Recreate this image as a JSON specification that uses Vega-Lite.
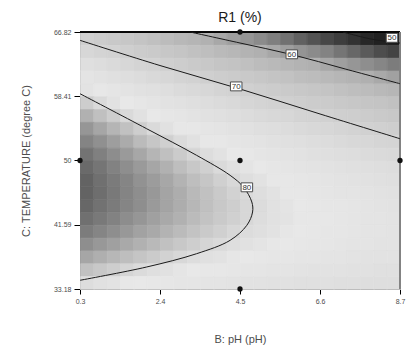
{
"$schema": "https://vega.github.io/schema/vega-lite/v6.json",
"width": 320, "height": 257,
"autosize": {"type": "none"},
"padding": {"left": 80, "top": 32, "right": 19, "bottom": 67},
"background": "white",
"config": {"font": "Liberation Sans", "view": {"stroke": null},
 "axisX": {"titleFontSize": 11, "titleFontWeight": "normal", "titleColor": "#4d4d4d", "titlePadding": 29, "labelFontSize": 7, "labelColor": "#4d4d4d", "labelPadding": 3, "tickSize": 5, "tickColor": "#000000", "domainColor": "#000000", "labelFlush": false, "grid": false, "zindex": 1},
 "axisY": {"titleFontSize": 11, "titleFontWeight": "normal", "titleColor": "#4d4d4d", "titlePadding": 22, "labelFontSize": 7, "labelColor": "#4d4d4d", "labelPadding": 3, "tickSize": 6, "tickColor": "#000000", "domainColor": "#808080", "labelFlush": false, "grid": false, "zindex": 1}},
"title": {"text": "R1 (%)", "fontSize": 14, "fontWeight": "normal", "color": "#1a1a1a", "offset": 3, "anchor": "middle"},
"datasets": {
"heat": [
{"ph":0.475,"t":65.98,"r":68.9},{"ph":0.825,"t":65.98,"r":67.9},{"ph":1.175,"t":65.98,"r":66.9},{"ph":1.525,"t":65.98,"r":65.9},{"ph":1.875,"t":65.98,"r":65.0},{"ph":2.225,"t":65.98,"r":64.0},{"ph":2.575,"t":65.98,"r":63.0},{"ph":2.925,"t":65.98,"r":62.1},{"ph":3.275,"t":65.98,"r":61.2},{"ph":3.625,"t":65.98,"r":60.2},{"ph":3.975,"t":65.98,"r":59.3},{"ph":4.325,"t":65.98,"r":58.4},{"ph":4.675,"t":65.98,"r":57.6},{"ph":5.025,"t":65.98,"r":56.7},{"ph":5.375,"t":65.98,"r":55.8},{"ph":5.725,"t":65.98,"r":55.0},{"ph":6.075,"t":65.98,"r":54.1},{"ph":6.425,"t":65.98,"r":53.3},{"ph":6.775,"t":65.98,"r":52.5},{"ph":7.125,"t":65.98,"r":51.7},{"ph":7.475,"t":65.98,"r":50.9},{"ph":7.825,"t":65.98,"r":50.1},{"ph":8.175,"t":65.98,"r":49.3},{"ph":8.525,"t":65.98,"r":48.5},
{"ph":0.475,"t":64.30,"r":71.8},{"ph":0.825,"t":64.30,"r":70.8},{"ph":1.175,"t":64.30,"r":69.9},{"ph":1.525,"t":64.30,"r":68.9},{"ph":1.875,"t":64.30,"r":68.0},{"ph":2.225,"t":64.30,"r":67.1},{"ph":2.575,"t":64.30,"r":66.1},{"ph":2.925,"t":64.30,"r":65.2},{"ph":3.275,"t":64.30,"r":64.3},{"ph":3.625,"t":64.30,"r":63.4},{"ph":3.975,"t":64.30,"r":62.6},{"ph":4.325,"t":64.30,"r":61.7},{"ph":4.675,"t":64.30,"r":60.8},{"ph":5.025,"t":64.30,"r":60.0},{"ph":5.375,"t":64.30,"r":59.2},{"ph":5.725,"t":64.30,"r":58.4},{"ph":6.075,"t":64.30,"r":57.5},{"ph":6.425,"t":64.30,"r":56.7},{"ph":6.775,"t":64.30,"r":56.0},{"ph":7.125,"t":64.30,"r":55.2},{"ph":7.475,"t":64.30,"r":54.4},{"ph":7.825,"t":64.30,"r":53.7},{"ph":8.175,"t":64.30,"r":52.9},{"ph":8.525,"t":64.30,"r":52.2},
{"ph":0.475,"t":62.62,"r":74.5},{"ph":0.825,"t":62.62,"r":73.5},{"ph":1.175,"t":62.62,"r":72.6},{"ph":1.525,"t":62.62,"r":71.7},{"ph":1.875,"t":62.62,"r":70.8},{"ph":2.225,"t":62.62,"r":69.9},{"ph":2.575,"t":62.62,"r":69.0},{"ph":2.925,"t":62.62,"r":68.1},{"ph":3.275,"t":62.62,"r":67.2},{"ph":3.625,"t":62.62,"r":66.4},{"ph":3.975,"t":62.62,"r":65.5},{"ph":4.325,"t":62.62,"r":64.7},{"ph":4.675,"t":62.62,"r":63.9},{"ph":5.025,"t":62.62,"r":63.1},{"ph":5.375,"t":62.62,"r":62.3},{"ph":5.725,"t":62.62,"r":61.5},{"ph":6.075,"t":62.62,"r":60.7},{"ph":6.425,"t":62.62,"r":60.0},{"ph":6.775,"t":62.62,"r":59.2},{"ph":7.125,"t":62.62,"r":58.5},{"ph":7.475,"t":62.62,"r":57.7},{"ph":7.825,"t":62.62,"r":57.0},{"ph":8.175,"t":62.62,"r":56.3},{"ph":8.525,"t":62.62,"r":55.6},
{"ph":0.475,"t":60.93,"r":76.8},{"ph":0.825,"t":60.93,"r":75.9},{"ph":1.175,"t":60.93,"r":75.0},{"ph":1.525,"t":60.93,"r":74.1},{"ph":1.875,"t":60.93,"r":73.3},{"ph":2.225,"t":60.93,"r":72.4},{"ph":2.575,"t":60.93,"r":71.6},{"ph":2.925,"t":60.93,"r":70.7},{"ph":3.275,"t":60.93,"r":69.9},{"ph":3.625,"t":60.93,"r":69.1},{"ph":3.975,"t":60.93,"r":68.2},{"ph":4.325,"t":60.93,"r":67.5},{"ph":4.675,"t":60.93,"r":66.7},{"ph":5.025,"t":60.93,"r":65.9},{"ph":5.375,"t":60.93,"r":65.1},{"ph":5.725,"t":60.93,"r":64.4},{"ph":6.075,"t":60.93,"r":63.6},{"ph":6.425,"t":60.93,"r":62.9},{"ph":6.775,"t":60.93,"r":62.2},{"ph":7.125,"t":60.93,"r":61.5},{"ph":7.475,"t":60.93,"r":60.8},{"ph":7.825,"t":60.93,"r":60.1},{"ph":8.175,"t":60.93,"r":59.4},{"ph":8.525,"t":60.93,"r":58.7},
{"ph":0.475,"t":59.25,"r":79.0},{"ph":0.825,"t":59.25,"r":78.1},{"ph":1.175,"t":59.25,"r":77.2},{"ph":1.525,"t":59.25,"r":76.4},{"ph":1.875,"t":59.25,"r":75.5},{"ph":2.225,"t":59.25,"r":74.7},{"ph":2.575,"t":59.25,"r":73.9},{"ph":2.925,"t":59.25,"r":73.1},{"ph":3.275,"t":59.25,"r":72.3},{"ph":3.625,"t":59.25,"r":71.5},{"ph":3.975,"t":59.25,"r":70.7},{"ph":4.325,"t":59.25,"r":69.9},{"ph":4.675,"t":59.25,"r":69.2},{"ph":5.025,"t":59.25,"r":68.4},{"ph":5.375,"t":59.25,"r":67.7},{"ph":5.725,"t":59.25,"r":67.0},{"ph":6.075,"t":59.25,"r":66.3},{"ph":6.425,"t":59.25,"r":65.6},{"ph":6.775,"t":59.25,"r":64.9},{"ph":7.125,"t":59.25,"r":64.2},{"ph":7.475,"t":59.25,"r":63.6},{"ph":7.825,"t":59.25,"r":62.9},{"ph":8.175,"t":59.25,"r":62.3},{"ph":8.525,"t":59.25,"r":61.6},
{"ph":0.475,"t":57.57,"r":80.8},{"ph":0.825,"t":57.57,"r":80.0},{"ph":1.175,"t":57.57,"r":79.1},{"ph":1.525,"t":57.57,"r":78.3},{"ph":1.875,"t":57.57,"r":77.5},{"ph":2.225,"t":57.57,"r":76.7},{"ph":2.575,"t":57.57,"r":75.9},{"ph":2.925,"t":57.57,"r":75.2},{"ph":3.275,"t":57.57,"r":74.4},{"ph":3.625,"t":57.57,"r":73.6},{"ph":3.975,"t":57.57,"r":72.9},{"ph":4.325,"t":57.57,"r":72.2},{"ph":4.675,"t":57.57,"r":71.4},{"ph":5.025,"t":57.57,"r":70.7},{"ph":5.375,"t":57.57,"r":70.0},{"ph":5.725,"t":57.57,"r":69.4},{"ph":6.075,"t":57.57,"r":68.7},{"ph":6.425,"t":57.57,"r":68.0},{"ph":6.775,"t":57.57,"r":67.4},{"ph":7.125,"t":57.57,"r":66.7},{"ph":7.475,"t":57.57,"r":66.1},{"ph":7.825,"t":57.57,"r":65.5},{"ph":8.175,"t":57.57,"r":64.9},{"ph":8.525,"t":57.57,"r":64.3},
{"ph":0.475,"t":55.89,"r":82.4},{"ph":0.825,"t":55.89,"r":81.6},{"ph":1.175,"t":55.89,"r":80.8},{"ph":1.525,"t":55.89,"r":80.0},{"ph":1.875,"t":55.89,"r":79.3},{"ph":2.225,"t":55.89,"r":78.5},{"ph":2.575,"t":55.89,"r":77.7},{"ph":2.925,"t":55.89,"r":77.0},{"ph":3.275,"t":55.89,"r":76.3},{"ph":3.625,"t":55.89,"r":75.5},{"ph":3.975,"t":55.89,"r":74.8},{"ph":4.325,"t":55.89,"r":74.1},{"ph":4.675,"t":55.89,"r":73.4},{"ph":5.025,"t":55.89,"r":72.8},{"ph":5.375,"t":55.89,"r":72.1},{"ph":5.725,"t":55.89,"r":71.5},{"ph":6.075,"t":55.89,"r":70.8},{"ph":6.425,"t":55.89,"r":70.2},{"ph":6.775,"t":55.89,"r":69.6},{"ph":7.125,"t":55.89,"r":69.0},{"ph":7.475,"t":55.89,"r":68.4},{"ph":7.825,"t":55.89,"r":67.8},{"ph":8.175,"t":55.89,"r":67.2},{"ph":8.525,"t":55.89,"r":66.6},
{"ph":0.475,"t":54.21,"r":83.8},{"ph":0.825,"t":54.21,"r":83.0},{"ph":1.175,"t":54.21,"r":82.2},{"ph":1.525,"t":54.21,"r":81.5},{"ph":1.875,"t":54.21,"r":80.7},{"ph":2.225,"t":54.21,"r":80.0},{"ph":2.575,"t":54.21,"r":79.3},{"ph":2.925,"t":54.21,"r":78.6},{"ph":3.275,"t":54.21,"r":77.9},{"ph":3.625,"t":54.21,"r":77.2},{"ph":3.975,"t":54.21,"r":76.5},{"ph":4.325,"t":54.21,"r":75.8},{"ph":4.675,"t":54.21,"r":75.2},{"ph":5.025,"t":54.21,"r":74.5},{"ph":5.375,"t":54.21,"r":73.9},{"ph":5.725,"t":54.21,"r":73.3},{"ph":6.075,"t":54.21,"r":72.7},{"ph":6.425,"t":54.21,"r":72.1},{"ph":6.775,"t":54.21,"r":71.5},{"ph":7.125,"t":54.21,"r":70.9},{"ph":7.475,"t":54.21,"r":70.4},{"ph":7.825,"t":54.21,"r":69.8},{"ph":8.175,"t":54.21,"r":69.3},{"ph":8.525,"t":54.21,"r":68.7},
{"ph":0.475,"t":52.52,"r":84.8},{"ph":0.825,"t":52.52,"r":84.1},{"ph":1.175,"t":52.52,"r":83.4},{"ph":1.525,"t":52.52,"r":82.7},{"ph":1.875,"t":52.52,"r":81.9},{"ph":2.225,"t":52.52,"r":81.2},{"ph":2.575,"t":52.52,"r":80.6},{"ph":2.925,"t":52.52,"r":79.9},{"ph":3.275,"t":52.52,"r":79.2},{"ph":3.625,"t":52.52,"r":78.6},{"ph":3.975,"t":52.52,"r":77.9},{"ph":4.325,"t":52.52,"r":77.3},{"ph":4.675,"t":52.52,"r":76.7},{"ph":5.025,"t":52.52,"r":76.1},{"ph":5.375,"t":52.52,"r":75.5},{"ph":5.725,"t":52.52,"r":74.9},{"ph":6.075,"t":52.52,"r":74.3},{"ph":6.425,"t":52.52,"r":73.7},{"ph":6.775,"t":52.52,"r":73.2},{"ph":7.125,"t":52.52,"r":72.6},{"ph":7.475,"t":52.52,"r":72.1},{"ph":7.825,"t":52.52,"r":71.6},{"ph":8.175,"t":52.52,"r":71.1},{"ph":8.525,"t":52.52,"r":70.6},
{"ph":0.475,"t":50.84,"r":85.7},{"ph":0.825,"t":50.84,"r":85.0},{"ph":1.175,"t":50.84,"r":84.3},{"ph":1.525,"t":50.84,"r":83.6},{"ph":1.875,"t":50.84,"r":82.9},{"ph":2.225,"t":50.84,"r":82.2},{"ph":2.575,"t":50.84,"r":81.6},{"ph":2.925,"t":50.84,"r":80.9},{"ph":3.275,"t":50.84,"r":80.3},{"ph":3.625,"t":50.84,"r":79.7},{"ph":3.975,"t":50.84,"r":79.1},{"ph":4.325,"t":50.84,"r":78.5},{"ph":4.675,"t":50.84,"r":77.9},{"ph":5.025,"t":50.84,"r":77.3},{"ph":5.375,"t":50.84,"r":76.8},{"ph":5.725,"t":50.84,"r":76.2},{"ph":6.075,"t":50.84,"r":75.7},{"ph":6.425,"t":50.84,"r":75.1},{"ph":6.775,"t":50.84,"r":74.6},{"ph":7.125,"t":50.84,"r":74.1},{"ph":7.475,"t":50.84,"r":73.6},{"ph":7.825,"t":50.84,"r":73.1},{"ph":8.175,"t":50.84,"r":72.6},{"ph":8.525,"t":50.84,"r":72.2},
{"ph":0.475,"t":49.16,"r":86.2},{"ph":0.825,"t":49.16,"r":85.6},{"ph":1.175,"t":49.16,"r":84.9},{"ph":1.525,"t":49.16,"r":84.2},{"ph":1.875,"t":49.16,"r":83.6},{"ph":2.225,"t":49.16,"r":83.0},{"ph":2.575,"t":49.16,"r":82.4},{"ph":2.925,"t":49.16,"r":81.7},{"ph":3.275,"t":49.16,"r":81.1},{"ph":3.625,"t":49.16,"r":80.6},{"ph":3.975,"t":49.16,"r":80.0},{"ph":4.325,"t":49.16,"r":79.4},{"ph":4.675,"t":49.16,"r":78.9},{"ph":5.025,"t":49.16,"r":78.3},{"ph":5.375,"t":49.16,"r":77.8},{"ph":5.725,"t":49.16,"r":77.3},{"ph":6.075,"t":49.16,"r":76.8},{"ph":6.425,"t":49.16,"r":76.3},{"ph":6.775,"t":49.16,"r":75.8},{"ph":7.125,"t":49.16,"r":75.3},{"ph":7.475,"t":49.16,"r":74.8},{"ph":7.825,"t":49.16,"r":74.4},{"ph":8.175,"t":49.16,"r":73.9},{"ph":8.525,"t":49.16,"r":73.5},
{"ph":0.475,"t":47.48,"r":86.6},{"ph":0.825,"t":47.48,"r":85.9},{"ph":1.175,"t":47.48,"r":85.3},{"ph":1.525,"t":47.48,"r":84.7},{"ph":1.875,"t":47.48,"r":84.0},{"ph":2.225,"t":47.48,"r":83.5},{"ph":2.575,"t":47.48,"r":82.9},{"ph":2.925,"t":47.48,"r":82.3},{"ph":3.275,"t":47.48,"r":81.7},{"ph":3.625,"t":47.48,"r":81.2},{"ph":3.975,"t":47.48,"r":80.6},{"ph":4.325,"t":47.48,"r":80.1},{"ph":4.675,"t":47.48,"r":79.6},{"ph":5.025,"t":47.48,"r":79.1},{"ph":5.375,"t":47.48,"r":78.6},{"ph":5.725,"t":47.48,"r":78.1},{"ph":6.075,"t":47.48,"r":77.6},{"ph":6.425,"t":47.48,"r":77.1},{"ph":6.775,"t":47.48,"r":76.7},{"ph":7.125,"t":47.48,"r":76.2},{"ph":7.475,"t":47.48,"r":75.8},{"ph":7.825,"t":47.48,"r":75.4},{"ph":8.175,"t":47.48,"r":75.0},{"ph":8.525,"t":47.48,"r":74.6},
{"ph":0.475,"t":45.80,"r":86.6},{"ph":0.825,"t":45.80,"r":86.0},{"ph":1.175,"t":45.80,"r":85.4},{"ph":1.525,"t":45.80,"r":84.8},{"ph":1.875,"t":45.80,"r":84.2},{"ph":2.225,"t":45.80,"r":83.7},{"ph":2.575,"t":45.80,"r":83.1},{"ph":2.925,"t":45.80,"r":82.6},{"ph":3.275,"t":45.80,"r":82.0},{"ph":3.625,"t":45.80,"r":81.5},{"ph":3.975,"t":45.80,"r":81.0},{"ph":4.325,"t":45.80,"r":80.5},{"ph":4.675,"t":45.80,"r":80.0},{"ph":5.025,"t":45.80,"r":79.6},{"ph":5.375,"t":45.80,"r":79.1},{"ph":5.725,"t":45.80,"r":78.6},{"ph":6.075,"t":45.80,"r":78.2},{"ph":6.425,"t":45.80,"r":77.8},{"ph":6.775,"t":45.80,"r":77.3},{"ph":7.125,"t":45.80,"r":76.9},{"ph":7.475,"t":45.80,"r":76.5},{"ph":7.825,"t":45.80,"r":76.1},{"ph":8.175,"t":45.80,"r":75.8},{"ph":8.525,"t":45.80,"r":75.4},
{"ph":0.475,"t":44.11,"r":86.4},{"ph":0.825,"t":44.11,"r":85.8},{"ph":1.175,"t":44.11,"r":85.3},{"ph":1.525,"t":44.11,"r":84.7},{"ph":1.875,"t":44.11,"r":84.2},{"ph":2.225,"t":44.11,"r":83.6},{"ph":2.575,"t":44.11,"r":83.1},{"ph":2.925,"t":44.11,"r":82.6},{"ph":3.275,"t":44.11,"r":82.1},{"ph":3.625,"t":44.11,"r":81.6},{"ph":3.975,"t":44.11,"r":81.1},{"ph":4.325,"t":44.11,"r":80.7},{"ph":4.675,"t":44.11,"r":80.2},{"ph":5.025,"t":44.11,"r":79.8},{"ph":5.375,"t":44.11,"r":79.3},{"ph":5.725,"t":44.11,"r":78.9},{"ph":6.075,"t":44.11,"r":78.5},{"ph":6.425,"t":44.11,"r":78.1},{"ph":6.775,"t":44.11,"r":77.7},{"ph":7.125,"t":44.11,"r":77.4},{"ph":7.475,"t":44.11,"r":77.0},{"ph":7.825,"t":44.11,"r":76.6},{"ph":8.175,"t":44.11,"r":76.3},{"ph":8.525,"t":44.11,"r":76.0},
{"ph":0.475,"t":42.43,"r":85.9},{"ph":0.825,"t":42.43,"r":85.4},{"ph":1.175,"t":42.43,"r":84.9},{"ph":1.525,"t":42.43,"r":84.3},{"ph":1.875,"t":42.43,"r":83.8},{"ph":2.225,"t":42.43,"r":83.3},{"ph":2.575,"t":42.43,"r":82.8},{"ph":2.925,"t":42.43,"r":82.4},{"ph":3.275,"t":42.43,"r":81.9},{"ph":3.625,"t":42.43,"r":81.4},{"ph":3.975,"t":42.43,"r":81.0},{"ph":4.325,"t":42.43,"r":80.6},{"ph":4.675,"t":42.43,"r":80.2},{"ph":5.025,"t":42.43,"r":79.7},{"ph":5.375,"t":42.43,"r":79.3},{"ph":5.725,"t":42.43,"r":79.0},{"ph":6.075,"t":42.43,"r":78.6},{"ph":6.425,"t":42.43,"r":78.2},{"ph":6.775,"t":42.43,"r":77.9},{"ph":7.125,"t":42.43,"r":77.5},{"ph":7.475,"t":42.43,"r":77.2},{"ph":7.825,"t":42.43,"r":76.9},{"ph":8.175,"t":42.43,"r":76.6},{"ph":8.525,"t":42.43,"r":76.3},
{"ph":0.475,"t":40.75,"r":85.2},{"ph":0.825,"t":40.75,"r":84.7},{"ph":1.175,"t":40.75,"r":84.2},{"ph":1.525,"t":40.75,"r":83.7},{"ph":1.875,"t":40.75,"r":83.2},{"ph":2.225,"t":40.75,"r":82.8},{"ph":2.575,"t":40.75,"r":82.3},{"ph":2.925,"t":40.75,"r":81.9},{"ph":3.275,"t":40.75,"r":81.4},{"ph":3.625,"t":40.75,"r":81.0},{"ph":3.975,"t":40.75,"r":80.6},{"ph":4.325,"t":40.75,"r":80.2},{"ph":4.675,"t":40.75,"r":79.8},{"ph":5.025,"t":40.75,"r":79.5},{"ph":5.375,"t":40.75,"r":79.1},{"ph":5.725,"t":40.75,"r":78.7},{"ph":6.075,"t":40.75,"r":78.4},{"ph":6.425,"t":40.75,"r":78.1},{"ph":6.775,"t":40.75,"r":77.7},{"ph":7.125,"t":40.75,"r":77.4},{"ph":7.475,"t":40.75,"r":77.1},{"ph":7.825,"t":40.75,"r":76.8},{"ph":8.175,"t":40.75,"r":76.6},{"ph":8.525,"t":40.75,"r":76.3},
{"ph":0.475,"t":39.07,"r":84.2},{"ph":0.825,"t":39.07,"r":83.7},{"ph":1.175,"t":39.07,"r":83.3},{"ph":1.525,"t":39.07,"r":82.8},{"ph":1.875,"t":39.07,"r":82.4},{"ph":2.225,"t":39.07,"r":82.0},{"ph":2.575,"t":39.07,"r":81.5},{"ph":2.925,"t":39.07,"r":81.1},{"ph":3.275,"t":39.07,"r":80.7},{"ph":3.625,"t":39.07,"r":80.3},{"ph":3.975,"t":39.07,"r":80.0},{"ph":4.325,"t":39.07,"r":79.6},{"ph":4.675,"t":39.07,"r":79.2},{"ph":5.025,"t":39.07,"r":78.9},{"ph":5.375,"t":39.07,"r":78.6},{"ph":5.725,"t":39.07,"r":78.3},{"ph":6.075,"t":39.07,"r":77.9},{"ph":6.425,"t":39.07,"r":77.6},{"ph":6.775,"t":39.07,"r":77.4},{"ph":7.125,"t":39.07,"r":77.1},{"ph":7.475,"t":39.07,"r":76.8},{"ph":7.825,"t":39.07,"r":76.6},{"ph":8.175,"t":39.07,"r":76.3},{"ph":8.525,"t":39.07,"r":76.1},
{"ph":0.475,"t":37.39,"r":83.0},{"ph":0.825,"t":37.39,"r":82.5},{"ph":1.175,"t":37.39,"r":82.1},{"ph":1.525,"t":37.39,"r":81.7},{"ph":1.875,"t":37.39,"r":81.3},{"ph":2.225,"t":37.39,"r":80.9},{"ph":2.575,"t":37.39,"r":80.5},{"ph":2.925,"t":37.39,"r":80.1},{"ph":3.275,"t":37.39,"r":79.7},{"ph":3.625,"t":37.39,"r":79.4},{"ph":3.975,"t":37.39,"r":79.1},{"ph":4.325,"t":37.39,"r":78.7},{"ph":4.675,"t":37.39,"r":78.4},{"ph":5.025,"t":37.39,"r":78.1},{"ph":5.375,"t":37.39,"r":77.8},{"ph":5.725,"t":37.39,"r":77.5},{"ph":6.075,"t":37.39,"r":77.2},{"ph":6.425,"t":37.39,"r":77.0},{"ph":6.775,"t":37.39,"r":76.7},{"ph":7.125,"t":37.39,"r":76.5},{"ph":7.475,"t":37.39,"r":76.2},{"ph":7.825,"t":37.39,"r":76.0},{"ph":8.175,"t":37.39,"r":75.8},{"ph":8.525,"t":37.39,"r":75.6},
{"ph":0.475,"t":35.70,"r":81.5},{"ph":0.825,"t":35.70,"r":81.1},{"ph":1.175,"t":35.70,"r":80.7},{"ph":1.525,"t":35.70,"r":80.3},{"ph":1.875,"t":35.70,"r":79.9},{"ph":2.225,"t":35.70,"r":79.5},{"ph":2.575,"t":35.70,"r":79.2},{"ph":2.925,"t":35.70,"r":78.8},{"ph":3.275,"t":35.70,"r":78.5},{"ph":3.625,"t":35.70,"r":78.2},{"ph":3.975,"t":35.70,"r":77.9},{"ph":4.325,"t":35.70,"r":77.6},{"ph":4.675,"t":35.70,"r":77.3},{"ph":5.025,"t":35.70,"r":77.0},{"ph":5.375,"t":35.70,"r":76.8},{"ph":5.725,"t":35.70,"r":76.5},{"ph":6.075,"t":35.70,"r":76.3},{"ph":6.425,"t":35.70,"r":76.0},{"ph":6.775,"t":35.70,"r":75.8},{"ph":7.125,"t":35.70,"r":75.6},{"ph":7.475,"t":35.70,"r":75.4},{"ph":7.825,"t":35.70,"r":75.2},{"ph":8.175,"t":35.70,"r":75.0},{"ph":8.525,"t":35.70,"r":74.9},
{"ph":0.475,"t":34.02,"r":79.7},{"ph":0.825,"t":34.02,"r":79.3},{"ph":1.175,"t":34.02,"r":79.0},{"ph":1.525,"t":34.02,"r":78.6},{"ph":1.875,"t":34.02,"r":78.3},{"ph":2.225,"t":34.02,"r":77.9},{"ph":2.575,"t":34.02,"r":77.6},{"ph":2.925,"t":34.02,"r":77.3},{"ph":3.275,"t":34.02,"r":77.0},{"ph":3.625,"t":34.02,"r":76.7},{"ph":3.975,"t":34.02,"r":76.5},{"ph":4.325,"t":34.02,"r":76.2},{"ph":4.675,"t":34.02,"r":75.9},{"ph":5.025,"t":34.02,"r":75.7},{"ph":5.375,"t":34.02,"r":75.5},{"ph":5.725,"t":34.02,"r":75.2},{"ph":6.075,"t":34.02,"r":75.0},{"ph":6.425,"t":34.02,"r":74.8},{"ph":6.775,"t":34.02,"r":74.7},{"ph":7.125,"t":34.02,"r":74.5},{"ph":7.475,"t":34.02,"r":74.3},{"ph":7.825,"t":34.02,"r":74.2},{"ph":8.175,"t":34.02,"r":74.0},{"ph":8.525,"t":34.02,"r":73.9}
],
"contours": [
{"c":"80","o":1,"ph":0.3,"t":58.74},{"c":"80","o":2,"ph":2.05,"t":54.16},{"c":"80","o":3,"ph":3.36,"t":50.68},{"c":"80","o":4,"ph":4.24,"t":48.06},{"c":"80","o":5,"ph":4.59,"t":46.53},{"c":"80","o":6,"ph":4.81,"t":44.57},{"c":"80","o":7,"ph":4.83,"t":43.26},{"c":"80","o":8,"ph":4.68,"t":41.52},{"c":"80","o":9,"ph":4.24,"t":39.55},{"c":"80","o":10,"ph":3.36,"t":37.8},{"c":"80","o":11,"ph":2.05,"t":36.06},{"c":"80","o":12,"ph":0.3,"t":34.32},
{"c":"70","o":1,"ph":0.3,"t":65.73},{"c":"70","o":2,"ph":2.4,"t":62.43},{"c":"70","o":3,"ph":4.5,"t":59.36},{"c":"70","o":4,"ph":6.6,"t":56.09},{"c":"70","o":5,"ph":8.7,"t":52.85},
{"c":"60","o":1,"ph":3.19,"t":66.82},{"c":"60","o":2,"ph":4.5,"t":65.38},{"c":"60","o":3,"ph":5.86,"t":63.87},{"c":"60","o":4,"ph":7.26,"t":61.98},{"c":"60","o":5,"ph":8.7,"t":60.05},
{"c":"50","o":1,"ph":7.2,"t":66.82},{"c":"50","o":2,"ph":7.94,"t":65.9},{"c":"50","o":3,"ph":8.7,"t":65.37}
],
"labels": [
{"lab":"80","ph":4.68,"t":46.49},{"lab":"70","ph":4.4,"t":59.7},{"lab":"60","ph":5.86,"t":63.9},{"lab":"50","ph":8.49,"t":66.06}
],
"design": [
{"ph":0.3,"t":50},{"ph":4.5,"t":50},{"ph":8.7,"t":50},{"ph":4.5,"t":66.82},{"ph":4.5,"t":33.18}
]
},
"layer": [
{
"data": {"name": "heat"},
"mark": {"type": "rect", "binSpacing": 0, "strokeWidth": 0.7},
"encoding": {
"x": {"field": "ph", "type": "quantitative", "bin": {"step": 0.35, "extent": [0.3, 8.7], "nice": false}, "scale": {"domain": [0.3, 8.7], "nice": false, "zero": false},
 "axis": {"values": [0.3, 2.4, 4.5, 6.6, 8.7], "format": ".4~g", "title": "B: pH (pH)"}},
"y": {"field": "t", "type": "quantitative", "bin": {"step": 1.682, "extent": [33.18, 66.82], "nice": false}, "scale": {"domain": [33.18, 66.82], "nice": false, "zero": false},
 "axis": {"values": [33.18, 41.59, 50, 58.41, 66.82], "format": ".4~g", "title": "C: TEMPERATURE (degree C)"}},
"color": {"field": "r", "type": "quantitative", "legend": null,
 "scale": {"type": "linear", "interpolate": "rgb", "domain": [46, 50, 53, 56, 60, 65, 70, 74, 78.5, 80, 82, 84, 87], "range": ["#0a0a0a", "#262626", "#4e4e4e", "#838383", "#b0b0b0", "#c4c4c4", "#d2d2d2", "#dedede", "#e8e8e8", "#dadada", "#b9b9b9", "#929292", "#5c5c5c"]}},
"stroke": {"field": "r", "type": "quantitative", "legend": null,
 "scale": {"type": "linear", "interpolate": "rgb", "domain": [46, 50, 53, 56, 60, 65, 70, 74, 78.5, 80, 82, 84, 87], "range": ["#0a0a0a", "#262626", "#4e4e4e", "#838383", "#b0b0b0", "#c4c4c4", "#d2d2d2", "#dedede", "#e8e8e8", "#dadada", "#b9b9b9", "#929292", "#5c5c5c"]}}
}
},
{
"data": {"name": "design"},
"mark": {"type": "rule", "color": "#000000", "strokeWidth": 1},
"encoding": {"y": {"datum": 66.82, "type": "quantitative",
 "axis": {"values": [33.18, 41.59, 50, 58.41, 66.82], "format": ".4~g", "title": "C: TEMPERATURE (degree C)"}}}
},
{
"data": {"name": "design"},
"mark": {"type": "rule", "color": "#808080", "strokeWidth": 1},
"encoding": {"x": {"datum": 8.7, "type": "quantitative",
 "axis": {"values": [0.3, 2.4, 4.5, 6.6, 8.7], "format": ".4~g", "title": "B: pH (pH)"}}}
},
{
"data": {"name": "contours"},
"mark": {"type": "line", "interpolate": "catmull-rom", "color": "#1a1a1a", "strokeWidth": 1, "clip": true},
"encoding": {
"x": {"field": "ph", "type": "quantitative", "axis": {"values": [0.3, 2.4, 4.5, 6.6, 8.7], "format": ".4~g", "title": "B: pH (pH)"}},
"y": {"field": "t", "type": "quantitative", "axis": {"values": [33.18, 41.59, 50, 58.41, 66.82], "format": ".4~g", "title": "C: TEMPERATURE (degree C)"}},
"detail": {"field": "c", "type": "nominal"},
"order": {"field": "o", "type": "quantitative"}
}
},
{
"data": {"name": "labels"},
"mark": {"type": "point", "shape": "M-1.1,-0.85L1.1,-0.85L1.1,0.85L-1.1,0.85Z", "filled": true, "fill": "#ffffff", "stroke": "#4d4d4d", "strokeWidth": 1, "size": 110, "opacity": 1},
"encoding": {
"x": {"field": "ph", "type": "quantitative", "axis": {"values": [0.3, 2.4, 4.5, 6.6, 8.7], "format": ".4~g", "title": "B: pH (pH)"}},
"y": {"field": "t", "type": "quantitative", "axis": {"values": [33.18, 41.59, 50, 58.41, 66.82], "format": ".4~g", "title": "C: TEMPERATURE (degree C)"}}
}
},
{
"data": {"name": "labels"},
"mark": {"type": "text", "fontSize": 8, "color": "#333333", "baseline": "middle", "align": "center", "dy": 0.5},
"encoding": {
"x": {"field": "ph", "type": "quantitative", "axis": {"values": [0.3, 2.4, 4.5, 6.6, 8.7], "format": ".4~g", "title": "B: pH (pH)"}},
"y": {"field": "t", "type": "quantitative", "axis": {"values": [33.18, 41.59, 50, 58.41, 66.82], "format": ".4~g", "title": "C: TEMPERATURE (degree C)"}},
"text": {"field": "lab", "type": "nominal"}
}
},
{
"data": {"name": "design"},
"mark": {"type": "point", "filled": true, "color": "#111111", "size": 28, "opacity": 1},
"encoding": {
"x": {"field": "ph", "type": "quantitative", "axis": {"values": [0.3, 2.4, 4.5, 6.6, 8.7], "format": ".4~g", "title": "B: pH (pH)"}},
"y": {"field": "t", "type": "quantitative", "axis": {"values": [33.18, 41.59, 50, 58.41, 66.82], "format": ".4~g", "title": "C: TEMPERATURE (degree C)"}}
}
}
]
}
